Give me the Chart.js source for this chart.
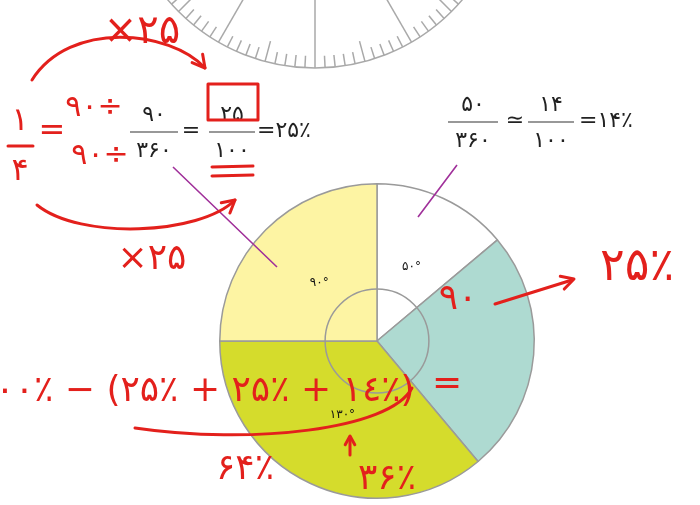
<!DOCTYPE html>
<html>
<head>
<meta charset="utf-8">
<script src="https://cdn.jsdelivr.net/npm/chart.js"></script>
<style>
  html, body { margin: 0; padding: 0; background: #ffffff; }
  #wrap { position: relative; width: 700px; height: 505px; }
</style>
</head>
<body>
<div id="wrap"><canvas id="pieCanvas"></canvas></div>
<script>
// داده‌های نمودار دایره‌ای (زاویه‌ها به درجه)
const categories = ['سفید', 'سبز آبی', 'سبز زرد', 'زرد'];
const degrees = [50, 90, 130, 90];
const sliceLabels = ['۵۰°', '', '۱۳۰°', '۹۰°'];

// رنگ‌ها
const sliceColors = ['#ffffff', '#aedad1', '#d5dc2c', '#fdf4a3'];
const RED = '#e3201c';
const FA = '"DejaVu Sans", sans-serif';

// نقاله بالای صفحه
function drawProtractor(ctx) {
    const cx = 315, cy = -125, r = 193;
    ctx.save();
    ctx.strokeStyle = '#a9a9a9';
    ctx.lineWidth = 1.5;
    ctx.beginPath();
    ctx.arc(cx, cy, r, 0, Math.PI);
    ctx.stroke();
    for (let d = -66; d <= 66; d += 3) {
        const t = d * Math.PI / 180;
        const sx = Math.sin(t), cy2 = Math.cos(t);
        let len = 12;
        if (d % 30 === 0) len = r;
        else if (d % 15 === 0) len = 21;
        ctx.beginPath();
        ctx.moveTo(cx + r * sx, cy + r * cy2);
        ctx.lineTo(cx + (r - len) * sx, cy + (r - len) * cy2);
        ctx.stroke();
    }
    ctx.restore();
}

// کسر سیاه رنگ
function fraction(ctx, x, num, den, yBar, w) {
    ctx.fillText(num, x, yBar - 17);
    ctx.fillText(den, x, yBar + 19);
    ctx.beginPath();
    ctx.moveTo(x - w / 2, yBar);
    ctx.lineTo(x + w / 2, yBar);
    ctx.stroke();
}

function drawBlackText(ctx) {
    ctx.save();
    ctx.fillStyle = '#222';
    ctx.strokeStyle = '#333';
    ctx.lineWidth = 1.2;
    ctx.font = '22px ' + FA;
    ctx.textAlign = 'center';
    ctx.textBaseline = 'middle';
    fraction(ctx, 154, '۹۰', '۳۶۰', 132, 48);
    ctx.fillText('=', 191, 131);
    fraction(ctx, 232, '۲۵', '۱۰۰', 132, 46);
    ctx.textAlign = 'left';
    ctx.fillText('=۲۵٪', 257, 131);
    ctx.textAlign = 'center';
    fraction(ctx, 473, '۵۰', '۳۶۰', 122, 50);
    ctx.fillText('≃', 515, 121);
    fraction(ctx, 551, '۱۴', '۱۰۰', 122, 46);
    ctx.textAlign = 'left';
    ctx.fillText('=۱۴٪', 579, 121);
    ctx.restore();
}

// خطوط ارتباط بنفش
function drawLeaders(ctx) {
    ctx.save();
    ctx.strokeStyle = '#a0309a';
    ctx.lineWidth = 1.6;
    ctx.beginPath();
    ctx.moveTo(173, 167); ctx.lineTo(277, 267);
    ctx.moveTo(457, 165); ctx.lineTo(418, 217);
    ctx.stroke();
    ctx.restore();
}

function arrowHead(ctx, x, y, ang, size) {
    ctx.beginPath();
    ctx.moveTo(x - size * Math.cos(ang - 0.5), y - size * Math.sin(ang - 0.5));
    ctx.lineTo(x, y);
    ctx.lineTo(x - size * Math.cos(ang + 0.5), y - size * Math.sin(ang + 0.5));
    ctx.stroke();
}

// یادداشت‌های دست‌نویس قرمز
function drawRedNotes(ctx) {
    ctx.save();
    ctx.fillStyle = RED;
    ctx.strokeStyle = RED;
    ctx.lineWidth = 3;
    ctx.lineCap = 'round';
    ctx.lineJoin = 'round';
    ctx.textBaseline = 'middle';
    ctx.textAlign = 'center';

    ctx.font = '40px ' + FA;
    ctx.fillText('×۲۵', 142, 33);
    ctx.font = '36px ' + FA;
    ctx.fillText('×۲۵', 152, 260);

    // قوس‌ها
    ctx.beginPath();
    ctx.moveTo(32, 80);
    ctx.bezierCurveTo(70, 20, 170, 30, 205, 68);
    ctx.stroke();
    arrowHead(ctx, 205, 68, 0.9, 14);
    ctx.beginPath();
    ctx.moveTo(37, 205);
    ctx.bezierCurveTo(80, 240, 200, 235, 235, 200);
    ctx.stroke();
    arrowHead(ctx, 235, 200, -0.7, 14);

    // ۱/۴
    ctx.font = '32px ' + FA;
    ctx.fillText('۱', 20, 122);
    ctx.fillText('۴', 20, 172);
    ctx.beginPath();
    ctx.moveTo(8, 146); ctx.lineTo(33, 146);
    ctx.stroke();
    ctx.fillText('=', 52, 132);
    ctx.font = '30px ' + FA;
    ctx.fillText('۹۰÷', 94, 108);
    ctx.fillText('۹۰÷', 100, 156);

    // کادر و خط زیر
    ctx.strokeRect(208, 84, 50, 36);
    ctx.beginPath();
    ctx.moveTo(212, 167); ctx.lineTo(253, 166);
    ctx.moveTo(212, 176); ctx.lineTo(253, 175);
    ctx.stroke();

    // ۹۰ و ۲۵٪
    ctx.font = '36px ' + FA;
    ctx.fillText('۹۰', 458, 300);
    ctx.beginPath();
    ctx.moveTo(495, 304); ctx.lineTo(572, 280);
    ctx.stroke();
    arrowHead(ctx, 574, 279, -0.3, 14);
    ctx.font = '46px ' + FA;
    ctx.textAlign = 'left';
    ctx.fillText('۲۵٪', 600, 268);

    // سطر پایین
    ctx.font = '36px ' + FA;
    ctx.fillText('۱۰۰٪ − (۲۵٪ + ۲۵٪ + ۱٤٪)', -24, 392);
    ctx.fillText('=', 432, 385);
    ctx.beginPath();
    ctx.moveTo(135, 428);
    ctx.bezierCurveTo(250, 445, 390, 430, 412, 388);
    ctx.stroke();
    ctx.beginPath();
    ctx.moveTo(350, 455); ctx.lineTo(350, 437);
    ctx.stroke();
    arrowHead(ctx, 350, 436, -Math.PI / 2, 10);
    ctx.fillText('۶۴٪', 216, 470);
    ctx.fillText('۳۶٪', 358, 480);
    ctx.restore();
}

const decorPlugin = {
    id: 'decor',
    beforeDatasetsDraw(chart) {
        drawProtractor(chart.ctx);
        drawBlackText(chart.ctx);
    },
    afterDatasetsDraw(chart) {
        const ctx = chart.ctx;
        const arcs = chart.getDatasetMeta(0).data;
        const first = arcs[0];
        ctx.save();
        // دایره داخلی
        ctx.strokeStyle = '#9a9a9a';
        ctx.lineWidth = 1.5;
        ctx.beginPath();
        ctx.arc(first.x, first.y, first.outerRadius * 0.33, 0, Math.PI * 2);
        ctx.stroke();
        // برچسب زاویه‌ها
        ctx.fillStyle = '#111';
        ctx.font = '12px ' + FA;
        ctx.textAlign = 'center';
        ctx.textBaseline = 'middle';
        arcs.forEach((a, i) => {
            if (!sliceLabels[i]) return;
            const mid = (a.startAngle + a.endAngle) / 2;
            const rr = a.outerRadius * 0.52;
            ctx.fillText(sliceLabels[i], a.x + rr * Math.cos(mid), a.y + rr * Math.sin(mid));
        });
        ctx.restore();
        drawLeaders(ctx);
    },
    afterDraw(chart) {
        drawRedNotes(chart.ctx);
    }
};

new Chart(document.getElementById('pieCanvas'), {
    type: 'pie',
    data: {
        labels: categories,
        datasets: [{
            data: degrees,
            backgroundColor: sliceColors,
            borderColor: '#9a9a9a',
            borderWidth: 1.5,
            hoverOffset: 0,
            offset: 0
        }]
    },
    options: {
        responsive: true,
        maintainAspectRatio: false,
        animation: false,
        layout: { padding: { top: 183, bottom: 6, left: 219, right: 165 } },
        plugins: {
            legend: { display: false },
            tooltip: { enabled: false }
        }
    },
    plugins: [decorPlugin]
});
</script>
</body>
</html>
